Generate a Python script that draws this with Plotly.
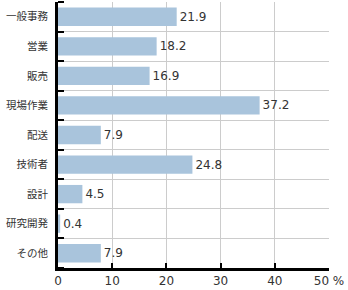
import plotly.graph_objects as go

categories = ["一般事務", "営業", "販売", "現場作業", "配送", "技術者", "設計", "研究開発", "その他"]
values = [21.9, 18.2, 16.9, 37.2, 7.9, 24.8, 4.5, 0.4, 7.9]
x_ticks = [0, 10, 20, 30, 40, 50]
x_ticktext = ["0", "10", "20", "30", "40", "50 %"]

pos = list(range(len(categories)))

fig = go.Figure(go.Bar(
    x=values, y=pos, orientation="h",
    marker=dict(color="#a9c4dc", line=dict(width=0)),
    width=0.62,
    text=[f"{v:.1f}" for v in values],
    textposition="outside",
    textfont=dict(size=12, color="#333333", family="DejaVu Sans"),
    cliponaxis=False,
))

fig.update_layout(
    width=348, height=290,
    margin=dict(l=58, r=19, t=2, b=20),
    plot_bgcolor="white", paper_bgcolor="white",
    showlegend=False,
    font=dict(family="Noto Sans CJK JP", size=11, color="#333333"),
)
fig.update_xaxes(
    range=[0, 50], tickvals=x_ticks, ticktext=x_ticktext,
    ticks="inside", ticklen=5, tickwidth=2, tickcolor="black",
    showgrid=True, gridcolor="#cccccc", gridwidth=1,
    showline=True, linecolor="black", linewidth=3,
    zeroline=False, tickfont=dict(size=12, color="#333333", family="DejaVu Sans"),
)
fig.update_yaxes(
    range=[len(categories) - 0.5, -0.5],
    tickvals=pos, ticktext=categories,
    ticks="", showgrid=False, zeroline=False,
    showline=True, linecolor="black", linewidth=3,
    ticklabelstandoff=5,
    minor=dict(tick0=0.5, dtick=1, ticks="inside", ticklen=6, tickwidth=2,
               tickcolor="black", showgrid=True, gridcolor="#cccccc", gridwidth=1),
    tickfont=dict(size=10.5, color="#333333"),
)

fig.write_html("out.html")
